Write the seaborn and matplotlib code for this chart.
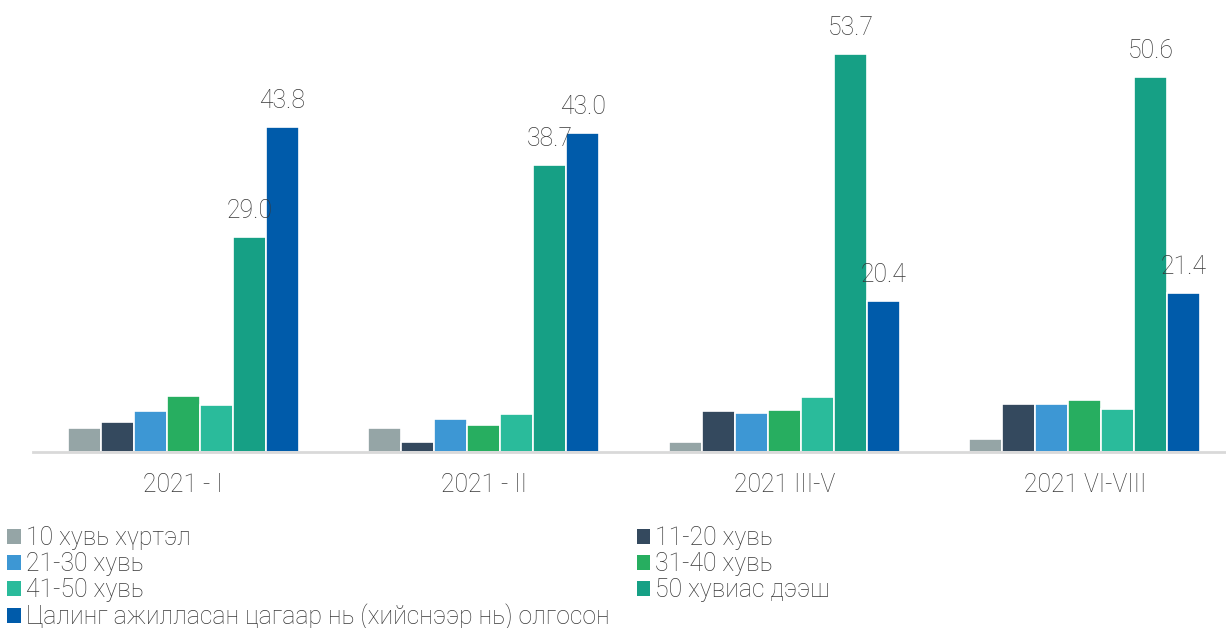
import matplotlib
matplotlib.use("Agg")
import matplotlib.pyplot as plt
import seaborn as sns
import pandas as pd
from matplotlib.patches import Patch

categories = ["2021 - I", "2021 - II", "2021 III-V", "2021 VI-VIII"]
series_names = [
    "10 хувь хүртэл",
    "11-20 хувь",
    "21-30 хувь",
    "31-40 хувь",
    "41-50 хувь",
    "50 хувиас дээш",
    "Цалинг ажилласан цагаар нь (хийснээр нь) олгосон",
]
s_10 = [3.3, 3.2, 1.4, 1.7]
s_11_20 = [4.0, 1.3, 5.5, 6.5]
s_21_30 = [5.5, 4.4, 5.2, 6.5]
s_31_40 = [7.5, 3.7, 5.7, 7.0]
s_41_50 = [6.3, 5.1, 7.4, 5.8]
s_50plus = [29.0, 38.7, 53.7, 50.6]
s_hourly = [43.8, 43.0, 20.4, 21.4]
colors = ["#95A5A6", "#34495E", "#3D97D4", "#27AE60", "#2ABB9B", "#16A085", "#005BAA"]
labeled_series = ["50 хувиас дээш", "Цалинг ажилласан цагаар нь (хийснээр нь) олгосон"]

values = [s_10, s_11_20, s_21_30, s_31_40, s_41_50, s_50plus, s_hourly]
rows = []
for name, vals in zip(series_names, values):
    for cat, v in zip(categories, vals):
        rows.append({"cat": cat, "series": name, "value": v})
df = pd.DataFrame(rows)

sns.set_theme(style="white")
plt.rcParams["font.family"] = ["Roboto", "DejaVu Sans"]
text_color = "#383838"
fs = 17.8

fig = plt.figure(figsize=(12.26, 6.28), dpi=100)
ax = fig.add_axes([33 / 1226, 1 - 452 / 628, 1 - 33 / 1226, 445 / 628])

sns.barplot(data=df, x="cat", y="value", hue="series", hue_order=series_names,
            order=categories, palette=colors, saturation=1, width=0.77, gap=0,
            edgecolor="white", linewidth=1.2, ax=ax, legend=False)

ax.set_xlim(-0.5, 3.47)
ax.set_ylim(0, 60)
ax.set_xlabel("")
ax.set_ylabel("")
ax.set_yticks([])
for sp in ["top", "right", "left"]:
    ax.spines[sp].set_visible(False)
ax.spines["bottom"].set_color("#D9D9D9")
ax.spines["bottom"].set_linewidth(2)
ax.tick_params(axis="x", length=0, pad=15, labelsize=fs, colors=text_color)
for t in ax.get_xticklabels():
    t.set_fontweight("light")

# value labels on the two largest series
for container, name in zip(ax.containers, series_names):
    if name in labeled_series:
        labels = [f"{b.get_height():.1f}" for b in container]
        ax.bar_label(container, labels=labels, padding=10, fontsize=fs,
                     color=text_color, fontweight="light")

handles = [Patch(facecolor=c, edgecolor="none") for c in colors]
order = [0, 2, 4, 6, 1, 3, 5]
leg = fig.legend([handles[i] for i in order], [series_names[i] for i in order],
                 ncol=2, loc="upper left", bbox_to_anchor=(0.0, 1 - 519 / 628),
                 frameon=False, fontsize=fs, handlelength=0.55, handleheight=0.55,
                 handletextpad=0.2, labelspacing=0.07, columnspacing=1.1,
                 borderaxespad=0, borderpad=0.3)
for t in leg.get_texts():
    t.set_color(text_color)
    t.set_fontweight("light")

fig.savefig("out.png", dpi=100)
